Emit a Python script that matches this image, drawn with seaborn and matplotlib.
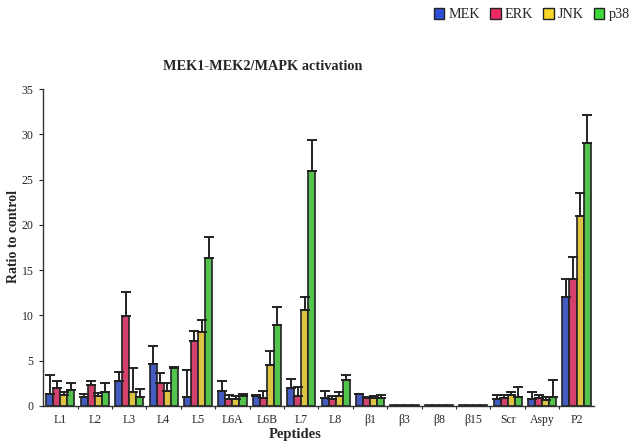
import matplotlib

matplotlib.use("Agg")

import matplotlib.pyplot as plt
from matplotlib.patches import Patch
import numpy as np
import pandas as pd
import seaborn as sns

peptides = ["L1", "L2", "L3", "L4", "L5", "L6A", "L6B", "L7", "L8",
            "β1", "β3", "β8", "β15", "Scr", "Aspy", "P2"]
kinases = ["MEK", "ERK", "JNK", "p38"]

mek = [1.3, 1.0, 2.7, 4.6, 1.0, 1.65, 1.1, 2.0, 0.92, 1.3, 0.08, 0.08, 0.08, 0.81, 0.81, 12.0]
erk = [2.0, 2.3, 9.9, 2.55, 7.2, 0.74, 0.92, 1.07, 0.74, 0.85, 0.08, 0.08, 0.08, 0.92, 0.92, 14.0]
jnk = [1.25, 1.1, 1.55, 1.7, 8.2, 0.74, 4.5, 10.6, 1.1, 0.92, 0.08, 0.08, 0.08, 1.2, 0.63, 21.0]
p38 = [1.72, 1.58, 1.03, 4.2, 16.35, 1.07, 8.97, 26.0, 2.83, 0.92, 0.08, 0.08, 0.08, 0.99, 0.99, 29.0]

# upper end of each error bar
mek_top = [3.45, 1.32, 3.7, 6.6, 4.0, 2.8, 1.2, 2.98, 1.65, 1.36, 0, 0, 0, 1.25, 1.54, 14.0]
erk_top = [2.72, 2.72, 12.6, 3.6, 8.3, 1.25, 1.65, 2.13, 1.14, 1.03, 0, 0, 0, 1.25, 1.25, 16.4]
jnk_top = [1.54, 1.43, 4.19, 2.57, 9.45, 1.1, 6.07, 12.0, 1.5, 1.07, 0, 0, 0, 1.5, 0.99, 23.5]
p38_top = [2.57, 2.57, 1.88, 4.3, 18.65, 1.32, 10.96, 29.4, 3.38, 1.21, 0, 0, 0, 2.13, 2.83, 32.1]

colors = ["#2f4fd6", "#ea2a62", "#f6d42a", "#3fd83a"]

values = {"MEK": mek, "ERK": erk, "JNK": jnk, "p38": p38}
tops = {"MEK": mek_top, "ERK": erk_top, "JNK": jnk_top, "p38": p38_top}

df = pd.DataFrame(
    [(p, k, values[k][i]) for k in kinases for i, p in enumerate(peptides)],
    columns=["peptide", "kinase", "ratio"],
)

sns.set_theme(style="white")
plt.rcParams["font.family"] = ["Liberation Serif", "DejaVu Serif"]

fig = plt.figure(figsize=(6.35, 4.48), dpi=100)
ax = fig.add_axes([0.068, 0.094, 0.867, 0.707])

sns.barplot(
    data=df, x="peptide", y="ratio", hue="kinase", order=peptides,
    hue_order=kinases, palette=colors, width=0.82, edgecolor="#222222",
    linewidth=1.2, errorbar=None, legend=False, ax=ax,
)

# upward-only error bars placed on the drawn bars
for k, container in zip(kinases, ax.containers):
    for i, bar in enumerate(container):
        top = tops[k][i]
        h = bar.get_height()
        if top <= h:
            continue
        cx = bar.get_x() + bar.get_width() / 2
        ax.errorbar(cx, h, yerr=[[0], [top - h]], fmt="none", ecolor="#222222",
                    elinewidth=1.4, capsize=3.8, capthick=1.4)

ax.set_ylim(0, 35)
ax.set_xlim(-0.5, len(peptides) - 0.5)
ax.set_yticks(range(0, 36, 5))
ax.tick_params(axis="y", labelsize=8.5, length=3, width=0.8, direction="out", left=True, pad=4)
ax.tick_params(axis="x", which="major", labelsize=8.5, length=0, pad=6)
ax.set_xticks(np.arange(len(peptides) - 1) + 0.5, minor=True)
ax.tick_params(axis="x", which="minor", length=2.5, width=0.8, bottom=True, direction="out")
for s in ["top", "right"]:
    ax.spines[s].set_visible(False)
for s in ["left", "bottom"]:
    ax.spines[s].set_color("#333333")
    ax.spines[s].set_linewidth(1.0)

ax.set_xlabel("Peptides", fontsize=10.5, fontweight="bold")
ax.xaxis.set_label_coords(0.457, -0.07)
ax.set_ylabel("Ratio to control", fontsize=10, fontweight="bold")
ax.yaxis.set_label_coords(-0.042, 0.536)

fig.text(0.414, 0.852, "MEK1-MEK2/MAPK activation", ha="center", va="center",
         fontsize=10.3, fontweight="bold")

handles = [Patch(facecolor=c, edgecolor="#222222", linewidth=1.0) for c in colors]
fig.legend(handles, kinases, loc="upper right", bbox_to_anchor=(1.012, 1.01), ncol=4,
           frameon=False, fontsize=10.2, handlelength=0.75, handleheight=0.75,
           handletextpad=0.3, columnspacing=0.7)

fig.savefig("out.png", dpi=100)
